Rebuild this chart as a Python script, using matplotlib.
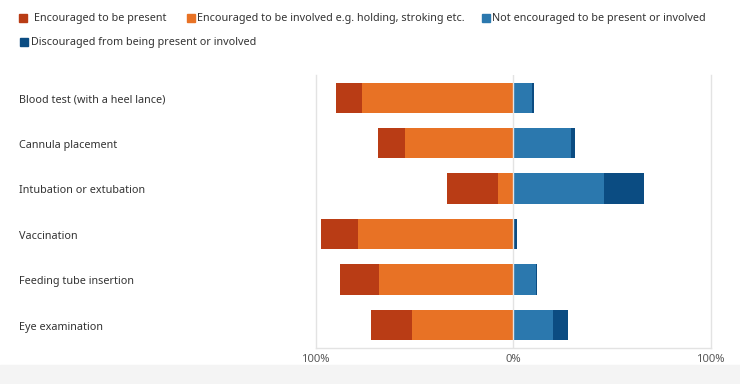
import matplotlib
matplotlib.use("Agg")
import matplotlib.pyplot as plt
from matplotlib.patches import Rectangle
import numpy as np

plt.rcParams["font.family"] = ["Noto Sans", "DejaVu Sans"]

categories = [
    "Blood test (with a heel lance)",
    "Cannula placement",
    "Intubation or extubation",
    "Vaccination",
    "Feeding tube insertion",
    "Eye examination",
]
series_names = [
    "Encouraged to be present",
    "Encouraged to be involved e.g. holding, stroking etc.",
    "Not encouraged to be present or involved",
    "Discouraged from being present or involved",
]
encouraged_present = [12.7, 13.8, 26.1, 18.7, 19.9, 20.7]
encouraged_involved = [76.7, 54.8, 7.6, 78.7, 67.8, 51.3]
not_encouraged = [9.6, 29.2, 45.9, 0.6, 11.6, 20.1]
discouraged = [1.0, 2.0, 20.2, 1.6, 0.5, 7.7]
tick_values = [-100, 0, 100]
tick_labels = ["100%", "0%", "100%"]

colors = ["#B93C15", "#E87225", "#2B78AE", "#0B4C82"]
grid_color = "#e3e3e3"
text_color = "#333333"
fs = 7.8

fig = plt.figure(figsize=(7.4, 3.84), dpi=100)
ax = fig.add_axes([0.4264, 0.0938, 0.5340, 0.7109])

y = np.arange(len(categories))
inv = np.array(encouraged_involved)
pres = np.array(encouraged_present)
notenc = np.array(not_encouraged)
disc = np.array(discouraged)
h = 0.67

ax.barh(y, -inv, height=h, color=colors[1], zorder=2)
ax.barh(y, -pres, left=-inv, height=h, color=colors[0], zorder=2)
ax.barh(y, notenc, height=h, color=colors[2], zorder=2)
ax.barh(y, disc, left=notenc, height=h, color=colors[3], zorder=2)
ax.axvline(0, color=grid_color, lw=1, zorder=3)

ax.set_xlim(-100, 100)
ax.set_ylim(len(categories) - 0.5, -0.5)
ax.set_xticks(tick_values)
ax.set_xticklabels(tick_labels, color="#595959", fontsize=fs + 0.3)
ax.tick_params(axis="x", length=0, pad=4)
ax.set_yticks([])
for side in ["left", "right", "bottom"]:
    ax.spines[side].set_color(grid_color)
    ax.spines[side].set_linewidth(1)
ax.spines["top"].set_visible(False)

for i, cat in enumerate(categories):
    ax.text(-0.750, i + 0.04, cat, transform=ax.get_yaxis_transform(),
            ha="left", va="center", fontsize=fs, color=text_color)

# legend drawn by hand to match the layout
legend_pos = [(19, 18, 34), (187, 18, 197), (482, 18, 492), (20, 42, 31)]
for (sx, sy, tx), name, c in zip(legend_pos, series_names, colors):
    fig.patches.append(Rectangle((sx / 740, 1 - (sy + 4) / 384), 8 / 740, 8 / 384,
                                 transform=fig.transFigure, color=c))
    fig.text(tx / 740, 1 - (sy + 1) / 384, name, ha="left", va="center",
             fontsize=fs, color=text_color)

# light page strip at the bottom
fig.patches.append(Rectangle((0, 0), 1, 19 / 384, transform=fig.transFigure,
                             color="#f4f4f4", zorder=-1))

fig.savefig("out.png", dpi=100)
